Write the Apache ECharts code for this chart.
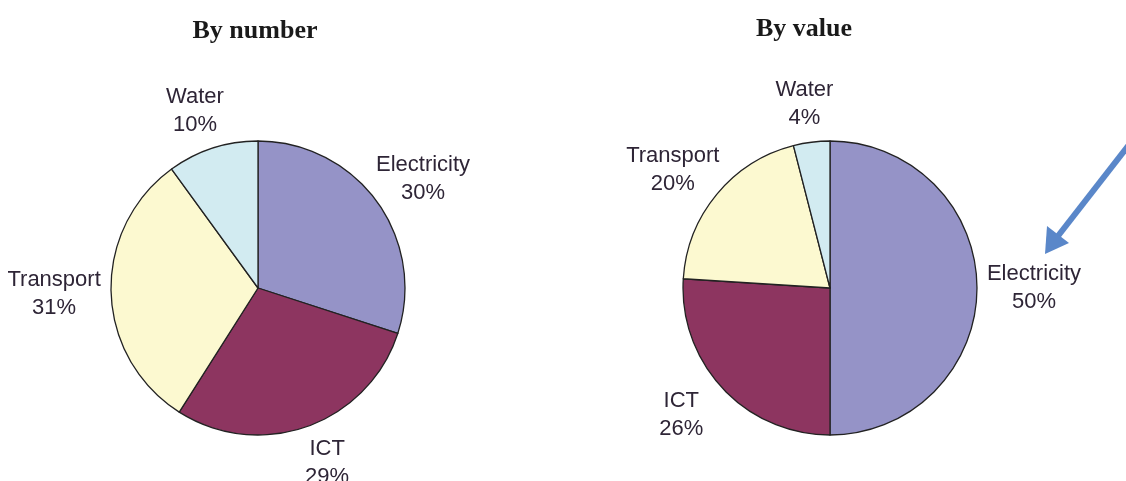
<!DOCTYPE html>
<html>
<head>
<meta charset="utf-8">
<script src="https://cdn.jsdelivr.net/npm/echarts@6/dist/echarts.min.js"></script>
<style>
html,body{margin:0;padding:0;background:#fff;}
#chart{width:1126px;height:481px;}
</style>
</head>
<body>
<div id="chart"></div>
<script>
var categories = ['Electricity', 'ICT', 'Transport', 'Water'];
var byNumber = [30, 29, 31, 10];
var byValue = [50, 26, 20, 4];
var titles = ['By number', 'By value'];
var colors = ['#9593c7', '#8d3560', '#fcf9d0', '#d2ebf1'];

var CENTERS = [[258, 288], [830, 288]];
var R = 147;
var LABEL_RX = 204, LABEL_RY = 186;

function mk(vals) {
  return categories.map(function (c, i) {
    return { name: c, value: vals[i], itemStyle: { color: colors[i] } };
  });
}
function pieSeries(vals, center) {
  return [{
    type: 'pie',
    center: center,
    radius: [0, R],
    startAngle: 90,
    clockwise: true,
    animation: false,
    silent: true,
    itemStyle: { borderColor: '#222', borderWidth: 1.3 },
    label: { show: false },
    labelLine: { show: false },
    data: mk(vals)
  }, {
    type: 'pie',
    center: center,
    radius: [R, R + 90],
    startAngle: 90,
    clockwise: true,
    animation: false,
    silent: true,
    itemStyle: { color: 'rgba(0,0,0,0)', borderWidth: 0 },
    label: {
      show: true,
      position: 'inside',
      formatter: function (p) { return p.name + '\n' + p.value + '%'; },
      color: '#2e2536',
      fontFamily: 'Liberation Sans, Arial, sans-serif',
      fontSize: 22,
      lineHeight: 28,
      align: 'center'
    },
    labelLine: { show: false },
    labelLayout: function (params) {
      var c = params.seriesIndex === 1 ? CENTERS[0] : CENTERS[1];
      var r = params.labelRect;
      var lx = r.x + r.width / 2, ly = r.y + r.height / 2;
      var vx = lx - c[0], vy = ly - c[1];
      var d = Math.sqrt(vx * vx + vy * vy) || 1;
      var ux = vx / d, uy = vy / d;
      return { dx: c[0] + ux * LABEL_RX - lx, dy: c[1] + uy * LABEL_RY - ly };
    },
    data: categories.map(function (c, i) { return { name: c, value: vals[i] }; })
  }];
}

var chart = echarts.init(document.getElementById('chart'), null, { renderer: 'canvas' });
chart.setOption({
  backgroundColor: '#ffffff',
  animation: false,
  title: [{
    text: titles[0], left: 250, top: 13, textAlign: 'center',
    textStyle: { fontFamily: 'Liberation Serif, Times New Roman, serif', fontWeight: 'bold', fontSize: 26, color: '#1a1a1a' }
  }, {
    text: titles[1], left: 799, top: 11, textAlign: 'center',
    textStyle: { fontFamily: 'Liberation Serif, Times New Roman, serif', fontWeight: 'bold', fontSize: 26, color: '#1a1a1a' }
  }],
  series: pieSeries(byNumber, CENTERS[0]).concat(pieSeries(byValue, CENTERS[1])),
  graphic: [{
    type: 'line',
    shape: { x1: 1132, y1: 141, x2: 1058, y2: 236 },
    style: { stroke: '#5a87c9', lineWidth: 6 },
    silent: true
  }, {
    type: 'polygon',
    shape: { points: [[1045, 254], [1047, 226], [1069, 243]] },
    style: { fill: '#5a87c9' },
    silent: true
  }]
});
</script>
</body>
</html>
